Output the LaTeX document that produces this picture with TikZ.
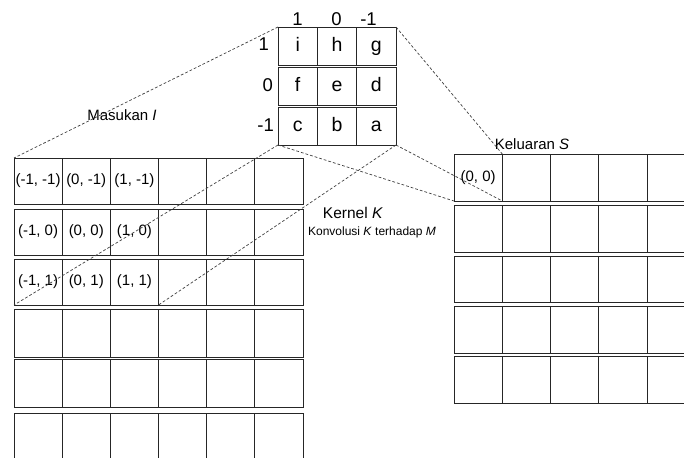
\documentclass[tikz,border=0pt]{standalone}
\usepackage{fontspec}
\setmainfont{Liberation Sans}
\begin{document}
\begin{tikzpicture}[x=1pt,y=-1pt,
  cell/.style={draw=black!85, line width=0.9pt, inner sep=0pt, outer sep=0pt, anchor=north west, font=\fontsize{15}{17}\selectfont},
  kcell/.style={cell, minimum width=39.33pt, minimum height=38pt, font=\fontsize{19.5}{21}\selectfont, text height=15pt, text depth=4pt},
  icell/.style={cell, minimum width=48.17pt},
  ocell/.style={cell, minimum width=48.3pt},
  ctext/.style={inner sep=0pt, font=\fontsize{15}{17}\selectfont},
  link/.style={draw=black!75, line width=0.7pt, dash pattern=on 2.8pt off 2pt},
  lab/.style={inner sep=0pt, font=\fontsize{15}{17}\selectfont},
  klab/.style={inner sep=0pt, font=\fontsize{18.5}{20}\selectfont}]
\useasboundingbox (0,0) rectangle (684,457);
\clip (0,0) rectangle (684,457);
% kernel
\foreach \r/\y/\ta/\tb/\tc in {1/27/i/h/g, 2/67/f/e/d, 3/107/c/b/a} {
  \node[kcell] (k-\r-1) at (278,\y) {\ta};
  \node[kcell] (k-\r-2) at (317.33,\y) {\tb};
  \node[kcell] (k-\r-3) at (356.67,\y) {\tc};
}
\node[klab, anchor=base east] (rl1) at (269,51) {1};
\node[klab, anchor=base east] (rl2) at (273,91.5) {0};
\node[klab, anchor=base east] (rl3) at (274,131.5) {-1};
\node[klab, anchor=base] (cl1) at (297.5,25.5) {1};
\node[klab, anchor=base] (cl2) at (336.5,25.5) {0};
\node[klab, anchor=base] (cl3) at (368.5,25.5) {-1};
% input grid
\foreach \r/\y/\h in {1/158/46, 2/209/46, 3/259/46, 4/309/48, 5/359/48, 6/413/50} {
  \foreach \c in {1,...,6} {
    \node[icell, minimum height=\h pt] (in-\r-\c) at ({14+(\c-1)*48.17},\y) {};
  }
}
\foreach \r/\c/\t in {1/1/{(-1, -1)}, 1/2/{(0, -1)}, 1/3/{(1, -1)},
                      2/1/{(-1, 0)}, 2/2/{(0, 0)}, 2/3/{(1, 0)},
                      3/1/{(-1, 1)}, 3/2/{(0, 1)}, 3/3/{(1, 1)}} {
  \node[ctext] (it-\r-\c) at (in-\r-\c.center) {\t};
}
% output grid
\foreach \r/\y/\h in {1/154/47, 2/205/47, 3/256/46, 4/306/47, 5/356/47} {
  \foreach \c in {1,...,5} {
    \node[ocell, minimum height=\h pt] (out-\r-\c) at ({454+(\c-1)*48.3},\y) {};
  }
}
\node[ctext] (ot-1-1) at (out-1-1.center) {(0, 0)};
% labels
\node[lab] (masukan) at (122,115) {Masukan \textit{I}};
\node[lab] (keluaran) at (532,144) {Keluaran \textit{S}};
\node[lab, font=\fontsize{15.5}{17}\selectfont] (kernel) at (353,213) {Kernel \textit{K}};
\node[lab, font=\fontsize{12}{14}\selectfont] (konv) at (372,232) {Konvolusi \textit{K} terhadap \textit{M}};
% projection lines
\draw[link] (k-1-1.north west) -- (in-1-1.north west);
\draw[link] (k-3-1.south west) -- (in-3-1.south west);
\draw[link] (k-3-3.south east) -- (in-3-3.south east);
\draw[link] (k-1-3.north east) -- (out-1-1.north east);
\draw[link] (k-3-1.south west) -- (out-1-1.south west);
\draw[link] (k-3-3.south east) -- (out-1-1.south east);
\end{tikzpicture}
\end{document}
